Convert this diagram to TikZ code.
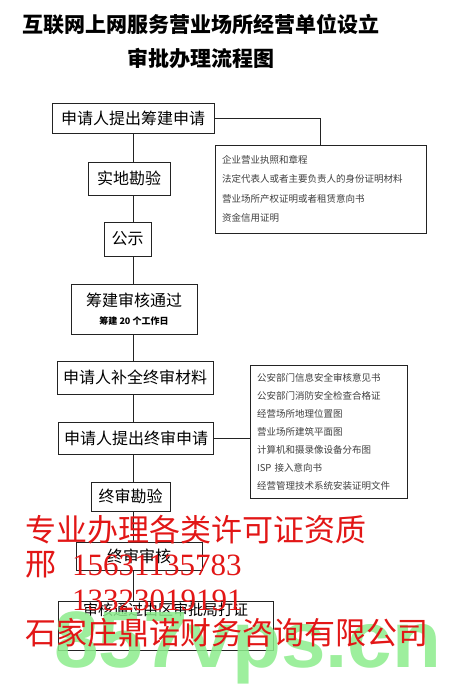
\documentclass[tikz,border=0pt]{standalone}
\usepackage{fontspec}
\setmainfont{Liberation Serif}
\newfontfamily\cjk{Noto Sans CJK SC}
\newfontfamily\wmfont{Liberation Sans}
\usetikzlibrary{positioning}
\definecolor{boxline}{RGB}{35,35,35}
\definecolor{adred}{RGB}{226,22,22}
\definecolor{wmgreen}{RGB}{140,236,140}

\begin{document}
\begin{tikzpicture}[x=1pt, y=-1pt, node distance=27pt,
   stepbox/.style={draw=boxline, line width=1pt, fill=white, inner sep=0pt, align=center,
                   font=\cjk\fontsize{16}{20}\selectfont},
   listbox/.style={draw=boxline, line width=1pt, fill=white, inner xsep=7pt, inner ysep=0pt,
                   align=left, text=black!75},
   link/.style={draw=boxline, line width=1pt},
   adtext/.style={anchor=west, inner sep=0pt, text=adred, font=\fontsize{31}{31}\selectfont}]
  \useasboundingbox (0,0) rectangle (465,688);
  \node[font=\cjk\bfseries\fontsize{21}{34}\selectfont, align=center] (title) at (201,41)
    {互联网上网服务营业场所经营单位设立\\审批办理流程图};

  % main column
  \node[stepbox, minimum width=162pt, minimum height=30pt] (b1) at (133,118) {申请人提出筹建申请};
  \node[stepbox, minimum width=82pt, minimum height=33pt, below=28pt of b1, xshift=-4pt] (b2) {实地勘验};
  \node[stepbox, minimum width=47pt, minimum height=34pt, below=26pt of b2, xshift=-1.5pt] (b3) {公示};
  \node[stepbox, minimum width=126pt, minimum height=50pt, below=of b3, xshift=6.5pt] (b4)
    {筹建审核通过\\[-2pt]{\bfseries\fontsize{9}{11}\selectfont 筹建 20 个工作日}};
  \node[stepbox, minimum width=156pt, minimum height=33pt, below=26pt of b4, xshift=1pt] (b5) {申请人补全终审材料};
  \node[stepbox, minimum width=155pt, minimum height=32pt, below=of b5, xshift=1pt] (b6) {申请人提出终审申请};
  \node[stepbox, minimum width=79pt, minimum height=29pt, below=of b6, xshift=-5.5pt] (b7) {终审勘验};
  \node[stepbox, minimum width=126pt, minimum height=28pt, below=30pt of b7, xshift=8.5pt] (b8) {终审审核};
  \node[stepbox, minimum width=215pt, minimum height=49pt, below=30pt of b8, xshift=26.5pt,
        font=\cjk\fontsize{15}{18}\selectfont] (b9) {审核通过由区审批局打证\\[14pt]};

  % document lists
  \node[listbox, minimum width=211pt, minimum height=88pt, text width=197pt,
        font=\cjk\fontsize{9.5}{19.3}\selectfont] (docs1) at (320.5,189)
    {企业营业执照和章程\\法定代表人或者主要负责人的身份证明材料\\营业场所产权证明或者租赁意向书\\资金信用证明};
  \node[listbox, minimum width=157pt, minimum height=133pt, text width=143pt,
        font=\cjk\fontsize{9.5}{18}\selectfont] (docs2) at (328.5,431.5)
    {公安部门信息安全审核意见书\\公安部门消防安全检查合格证\\经营场所地理位置图\\营业场所建筑平面图\\计算机和摄录像设备分布图\\ISP 接入意向书\\经营管理技术系统安装证明文件};

  \foreach \a/\b in {b1/b2, b2/b3, b3/b4, b4/b5, b5/b6, b6/b7, b7/b8, b8/b9}
    \draw[link] (b1.south |- \a.south) -- (b1.south |- \b.north);
  \draw[link] (b1.east) -| (docs1.north);
  \draw[link] (b6.east) -- (b6.east -| docs2.west);

  % overlay
  \node[anchor=base west, inner sep=0pt, text=wmgreen, opacity=0.85,
        font=\wmfont\bfseries\fontsize{80}{80}\selectfont] (wm) at (54,667) {857vps.cn};
  \node[adtext] (ad1) at (25,530) {\cjk 专业办理各类许可证资质};
  \node[adtext] (ad2) at (25,565) {{\cjk 邢}\hspace{16pt}15631135783};
  \node[adtext] (ad3) at (72,600) {13323019191};
  \node[adtext] (ad4) at (25,633) {\cjk 石家庄鼎诺财务咨询有限公司};
\end{tikzpicture}
\end{document}
